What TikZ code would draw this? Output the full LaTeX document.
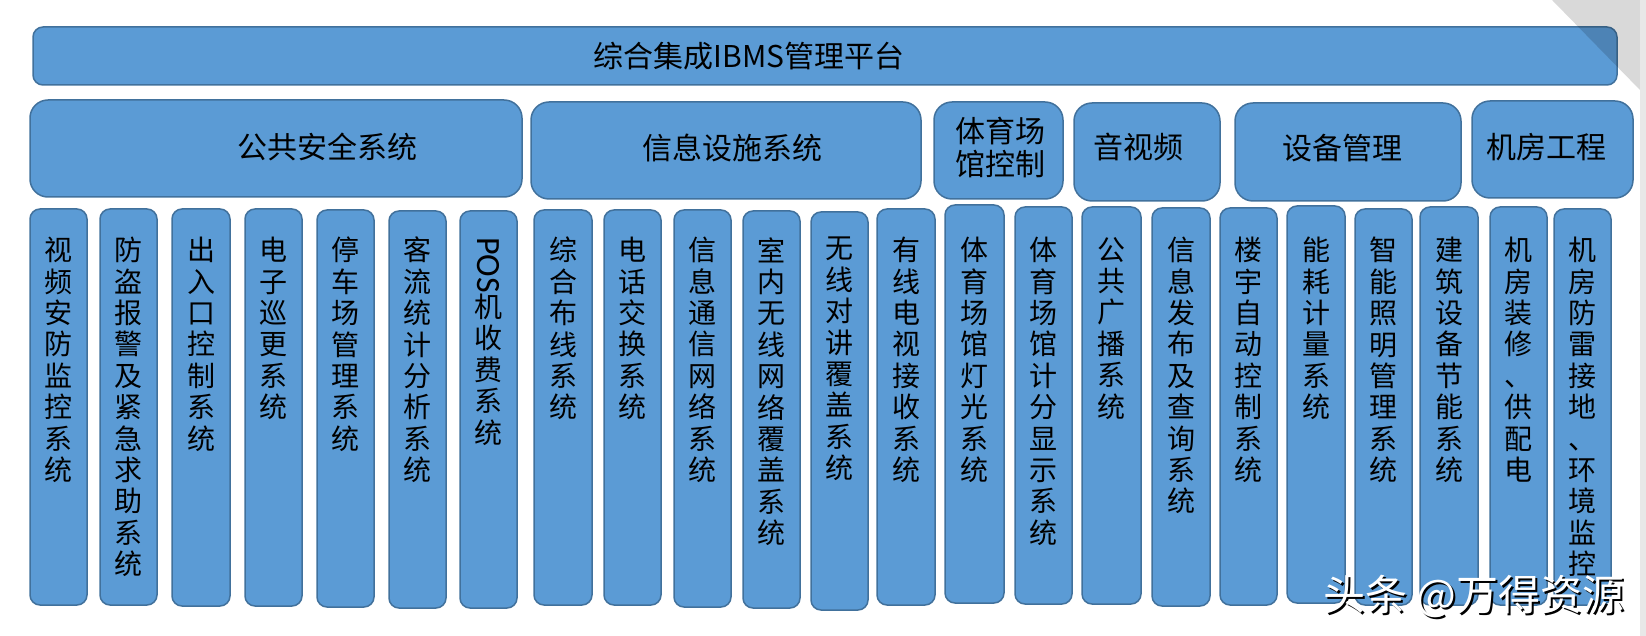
\documentclass[tikz,border=0pt]{standalone}
\usepackage{fontspec}
\setmainfont{Carlito}
\newfontfamily\cjk{Noto Sans CJK SC}
\usetikzlibrary{positioning}
\definecolor{boxblue}{HTML}{5B9BD5}
\definecolor{boxline}{HTML}{41719C}
\begin{document}
\begin{tikzpicture}[x=1pt,y=-1pt,
    sysbox/.style={draw=boxline, line width=1.5pt, fill=boxblue, rounded corners=10pt},
    groupbox/.style={sysbox, rounded corners=18pt},
    toptext/.style={font=\cjk\fontsize{30}{33}\selectfont, inner sep=0pt},
    grouptext/.style={font=\cjk\fontsize{30}{33}\selectfont, align=center, inner sep=0pt},
    subtext/.style={font=\cjk\fontsize{28}{31.4}\selectfont, align=center, anchor=north, inner sep=0pt}]
        \useasboundingbox (0,0) rectangle (1646,636);

        % platform
        \draw[sysbox]  (33,27) rectangle (1617,85);
        \node[toptext] (ibms) at (749,56) {{\cjk 综合集成}IBMS{\cjk 管理平台}};

        % groups
        \draw[groupbox]  (30,100) rectangle (522,197);
        \node[grouptext] (safety) at (327,147) {公共安全系统};
        \draw[groupbox]  (531,102) rectangle (921,199);
        \node[grouptext] (infra) at (732,148) {信息设施系统};
        \draw[groupbox]  (934,102) rectangle (1063,199);
        \node[grouptext] (stadium) at (1000,147) {体育场\\馆控制};
        \draw[groupbox]  (1074,103) rectangle (1220,201);
        \node[grouptext] (av) at (1138,147) {音视频};
        \draw[groupbox]  (1235,103) rectangle (1461,201);
        \node[grouptext] (equip) at (1342,148) {设备管理};
        \draw[groupbox]  (1472,101) rectangle (1633,198);
        \node[grouptext] (room) at (1546,147) {机房工程};

        % subsystems
        \foreach \xa/\xb/\ya/\yb/\txt [count=\i] in {
            30/87/209/605/{视\\频\\安\\防\\监\\控\\系\\统},
            100/157/209/605/{防\\盗\\报\\警\\及\\紧\\急\\求\\助\\系\\统},
            172/230/209/606/{出\\入\\口\\控\\制\\系\\统},
            245/302/209/606/{电\\子\\巡\\更\\系\\统},
            317/374/210/607/{停\\车\\场\\管\\理\\系\\统},
            389/446/211/608/{客\\流\\统\\计\\分\\析\\系\\统},
            460/517/211/608/{{\normalfont\fontsize{34}{34}\selectfont\rotatebox{-90}{POS}}\\机\\收\\费\\系\\统},
            534/592/210/605/{综\\合\\布\\线\\系\\统},
            604/661/210/605/{电\\话\\交\\换\\系\\统},
            674/731/210/607/{信\\息\\通\\信\\网\\络\\系\\统},
            743/800/211/608/{室\\内\\无\\线\\网\\络\\覆\\盖\\系\\统},
            811/868/212/610/{无\\线\\对\\讲\\覆\\盖\\系\\统},
            877/935/209/605/{有\\线\\电\\视\\接\\收\\系\\统},
            945/1004/205/603/{体\\育\\场\\馆\\灯\\光\\系\\统},
            1015/1072/207/604/{体\\育\\场\\馆\\计\\分\\显\\示\\系\\统},
            1082/1141/207/604/{公\\共\\广\\播\\系\\统},
            1152/1210/208/606/{信\\息\\发\\布\\及\\查\\询\\系\\统},
            1220/1277/208/605/{楼\\宇\\自\\动\\控\\制\\系\\统},
            1287/1345/206/603/{能\\耗\\计\\量\\系\\统},
            1355/1412/209/605/{智\\能\\照\\明\\管\\理\\系\\统},
            1420/1478/207/605/{建\\筑\\设\\备\\节\\能\\系\\统},
            1490/1547/207/605/{机\\房\\装\\修\\、\\供\\配\\电},
            1554/1611/209/605/{机\\房\\防\\雷\\接\\地\\、\\环\\境\\监\\控}}
        {
        \draw[sysbox]  (\xa,\ya) rectangle (\xb,\yb);
        \node[subtext] (sub\i) at ({(\xa+\xb)/2},237) {\txt};
        }

        % page corner
        \fill[black, opacity=0.15]  (1552,0) -- (1640,0) -- (1640,90) -- cycle;
        \fill[black!9]  (1640,0) rectangle (1646,636);

        % watermark
        \node[font=\cjk\fontsize{42}{42}\selectfont, text=black] (markshadow) at (1476,598) {头条 @万得资源};
        \node[font=\cjk\fontsize{42}{42}\selectfont, text=white] (mark) at ([shift={(-2,-2)}]markshadow.center) {头条 @万得资源};
\end{tikzpicture}
\end{document}
